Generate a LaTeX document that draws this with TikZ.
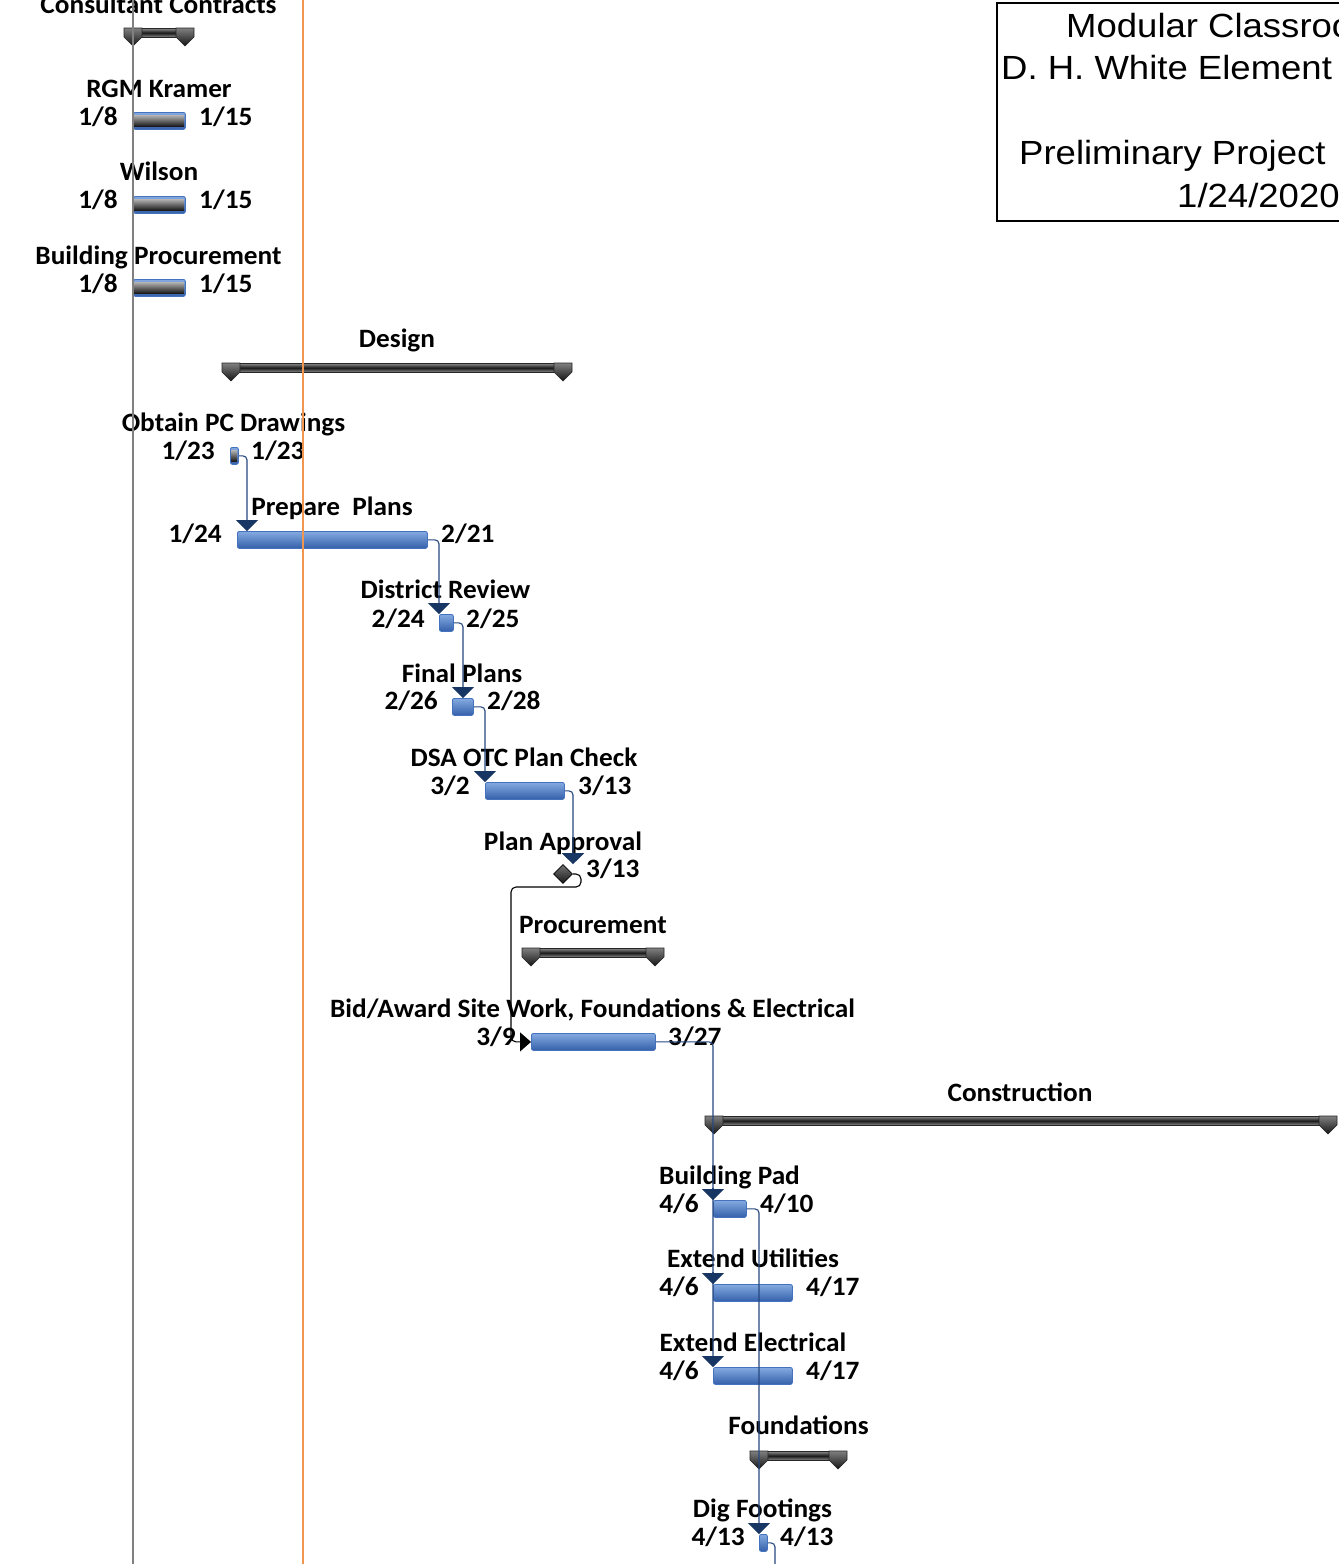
\documentclass[tikz,border=0pt]{standalone}
\usepackage{fontspec}
\setmainfont{Carlito}
\newfontfamily\titlefont[FakeStretch=1.09]{Liberation Sans}
\newfontfamily\lblfont[FakeStretch=1.03]{Carlito}
\usetikzlibrary{arrows.meta,shapes.geometric}
\definecolor{tasktop}{RGB}{132,170,224}
\definecolor{taskbot}{RGB}{52,96,170}
\definecolor{taskedge}{RGB}{68,114,190}
\definecolor{connc}{RGB}{38,72,128}
\definecolor{arrowc}{RGB}{24,54,100}
\definecolor{gridgray}{RGB}{128,128,128}
\definecolor{todayc}{RGB}{240,150,80}
\newcommand\sumbar[4]{%
  \node[sumbody, minimum width={#3-#2-20}, anchor=north west] (#1) at (#2+10,#4) {};
  \draw[sumcap] (#2,#4) -- (#2+18,#4) -- (#2+18,#4+9) -- (#2+9,#4+18) -- (#2,#4+9) -- cycle;
  \draw[sumcap] (#3-18,#4) -- (#3,#4) -- (#3,#4+9) -- (#3-9,#4+18) -- (#3-18,#4+9) -- cycle;
}
\begin{document}
\begin{tikzpicture}[x=1pt,y=-1pt,
  lbl/.style={font=\lblfont\fontsize{26.5}{30}\selectfont\bfseries, inner sep=0, anchor=base},
  ldate/.style={lbl, anchor=base east},
  rdate/.style={lbl, anchor=base west},
  ttl/.style={font=\titlefont\fontsize{33.5}{40}\selectfont, inner sep=0, anchor=base west},
  task/.style={draw=taskedge, line width=0.8pt, rounded corners=2pt, top color=tasktop, bottom color=taskbot, inner sep=0, anchor=north west, minimum height=17},
  prog/.style={top color=black!30, bottom color=black!90, inner sep=0, anchor=north west, minimum height=11},
  sumbody/.style={draw=black!85, line width=0.6pt, top color=black!45, bottom color=black!45, middle color=black!90, inner sep=0, minimum height=9},
  sumcap/.style={draw=black!85, line width=0.6pt, top color=black!50, bottom color=black!92},
  conn/.style={draw=connc, line width=1.1pt, rounded corners=4pt},
  arr/.style={-{Triangle[width=22pt,length=11pt,color=arrowc]}},
  bconn/.style={draw=black, line width=1.1pt, rounded corners=5pt, -{Triangle[width=19pt,length=11pt,color=black]}}
]
\useasboundingbox[fill=white] (0,0) rectangle (1339,1564);

% title block
\draw[line width=2pt] (1360,3) -| (997,221) -- (1360,221);
\node[ttl] (t1) at (1066,37) {Modular Classroo};
\node[ttl] (t2) at (1001,79) {D. H. White Element};
\node[ttl] (t3) at (1019,164) {Preliminary Project};
\node[ttl] (t4) at (1177,207) {1/24/2020};

% summary bars
\sumbar{cc}{124}{194}{28}
\sumbar{des}{222}{572}{363}
\sumbar{proc}{522}{664}{948}
\sumbar{cons}{705}{1337}{1116}
\sumbar{fnd}{750}{847}{1451}

% task bars
\node[task, minimum width=52] (rgm) at (133,112) {};
\node[prog, minimum width=50] (rgmp) at (134,115) {};
\node[task, minimum width=52] (wil) at (133,196) {};
\node[prog, minimum width=50] (wilp) at (134,199) {};
\node[task, minimum width=52] (bpr) at (133,279) {};
\node[prog, minimum width=50] (bprp) at (134,282) {};
\node[task, minimum width=8] (opc) at (230,447) {};
\node[prog, minimum width=6] (opcp) at (231,450) {};
\node[task, minimum width=190] (pp) at (237,531) {};
\node[task, minimum width=14] (dr) at (439,614) {};
\node[task, minimum width=21] (fp) at (452,698) {};
\node[task, minimum width=79] (dsa) at (485,782) {};
\node[diamond, draw=black, line width=0.6pt, top color=black!55, bottom color=black!90, minimum width=19, minimum height=19, inner sep=0] (pa) at (563,874) {};
\node[task, minimum width=124] (bid) at (531,1033) {};
\node[task, minimum width=33] (bp) at (713,1200) {};
\node[task, minimum width=79] (eu) at (713,1284) {};
\node[task, minimum width=79] (ee) at (713,1367) {};
\node[task, minimum width=8] (df) at (759,1534) {};

% labels
\node[lbl] (l-cc) at (158.5,13) {Consultant Contracts};
\node[lbl] (l-rgm) at (159,97) {RGM Kramer};
\node[ldate] (s-rgm) at (118,125) {1/8};
\node[rdate] (e-rgm) at (199,125) {1/15};
\node[lbl] (l-wil) at (159,180) {Wilson};
\node[ldate] (s-wil) at (118,208) {1/8};
\node[rdate] (e-wil) at (199,208) {1/15};
\node[lbl] (l-bpr) at (158.5,264) {Building Procurement};
\node[ldate] (s-bpr) at (118,292) {1/8};
\node[rdate] (e-bpr) at (199,292) {1/15};
\node[lbl] (l-des) at (397,347) {Design};
\node[lbl] (l-opc) at (233.5,431) {Obtain PC Drawings};
\node[ldate] (s-opc) at (215,459) {1/23};
\node[rdate] (e-opc) at (251,459) {1/23};
\node[lbl] (l-pp) at (332,515) {Prepare\ \ Plans};
\node[ldate] (s-pp) at (222,542) {1/24};
\node[rdate] (e-pp) at (441,542) {2/21};
\node[lbl] (l-dr) at (445.5,598) {District Review};
\node[ldate] (s-dr) at (425,627) {2/24};
\node[rdate] (e-dr) at (466,627) {2/25};
\node[lbl] (l-fp) at (462,682) {Final Plans};
\node[ldate] (s-fp) at (438,709) {2/26};
\node[rdate] (e-fp) at (487,709) {2/28};
\node[lbl] (l-dsa) at (524,766) {DSA OTC Plan Check};
\node[ldate] (s-dsa) at (470,794) {3/2};
\node[rdate] (e-dsa) at (578,794) {3/13};
\node[lbl] (l-pa) at (563,850) {Plan Approval};
\node[rdate] (e-pa) at (586,877) {3/13};
\node[lbl] (l-proc) at (593,933) {Procurement};
\node[lbl] (l-bid) at (592.5,1017) {Bid/Award Site Work, Foundations \& Electrical};
\node[ldate] (s-bid) at (516,1045) {3/9};
\node[rdate] (e-bid) at (668,1045) {3/27};
\node[lbl] (l-cons) at (1020,1101) {Construction};
\node[lbl] (l-bp) at (729.5,1184) {Building Pad};
\node[ldate] (s-bp) at (699,1212) {4/6};
\node[rdate] (e-bp) at (760,1212) {4/10};
\node[lbl] (l-eu) at (753,1267) {Extend Utilities};
\node[ldate] (s-eu) at (699,1295) {4/6};
\node[rdate] (e-eu) at (806,1295) {4/17};
\node[lbl] (l-ee) at (753,1351) {Extend Electrical};
\node[ldate] (s-ee) at (699,1379) {4/6};
\node[rdate] (e-ee) at (806,1379) {4/17};
\node[lbl] (l-fnd) at (798.5,1434) {Foundations};
\node[lbl] (l-df) at (762.5,1517) {Dig Footings};
\node[ldate] (s-df) at (745,1545) {4/13};
\node[rdate] (e-df) at (780,1545) {4/13};

% connectors
\draw[conn, arr] (opc.east) -| (247,0 |- pp.north);
\draw[conn, arr] (pp.east) -| (439,0 |- dr.north);
\draw[conn, arr] (dr.east) -| (463,0 |- fp.north);
\draw[conn, arr] (fp.east) -| (485,0 |- dsa.north);
\draw[conn, arr] (dsa.east) -| (573,0 |- pa.north);
\draw[bconn] (pa.east) -| (581,887) -| (511,0 |- bid.west) -- (bid.west);
\draw[conn, arr] (bid.east) -| (713,0 |- ee.north);
\draw[conn, arr] (713,0 |- bp.north) ++(0,-12) -- (713,0 |- bp.north);
\draw[conn, arr] (713,0 |- eu.north) ++(0,-12) -- (713,0 |- eu.north);
\draw[conn, arr] (bp.east) -| (759,0 |- df.north);
\coordinate (dfout) at (775,1570);
\draw[conn] (df.east) -| (dfout);

% timeline markers
\coordinate (gtop) at (133,0);
\coordinate (gbot) at (133,1564);
\coordinate (otop) at (302.5,0);
\coordinate (obot) at (302.5,1564);
\draw[gridgray, line width=2.5pt] (gtop) -- (gbot);
\draw[todayc, line width=2pt] (otop) -- (obot);
\end{tikzpicture}
\end{document}
